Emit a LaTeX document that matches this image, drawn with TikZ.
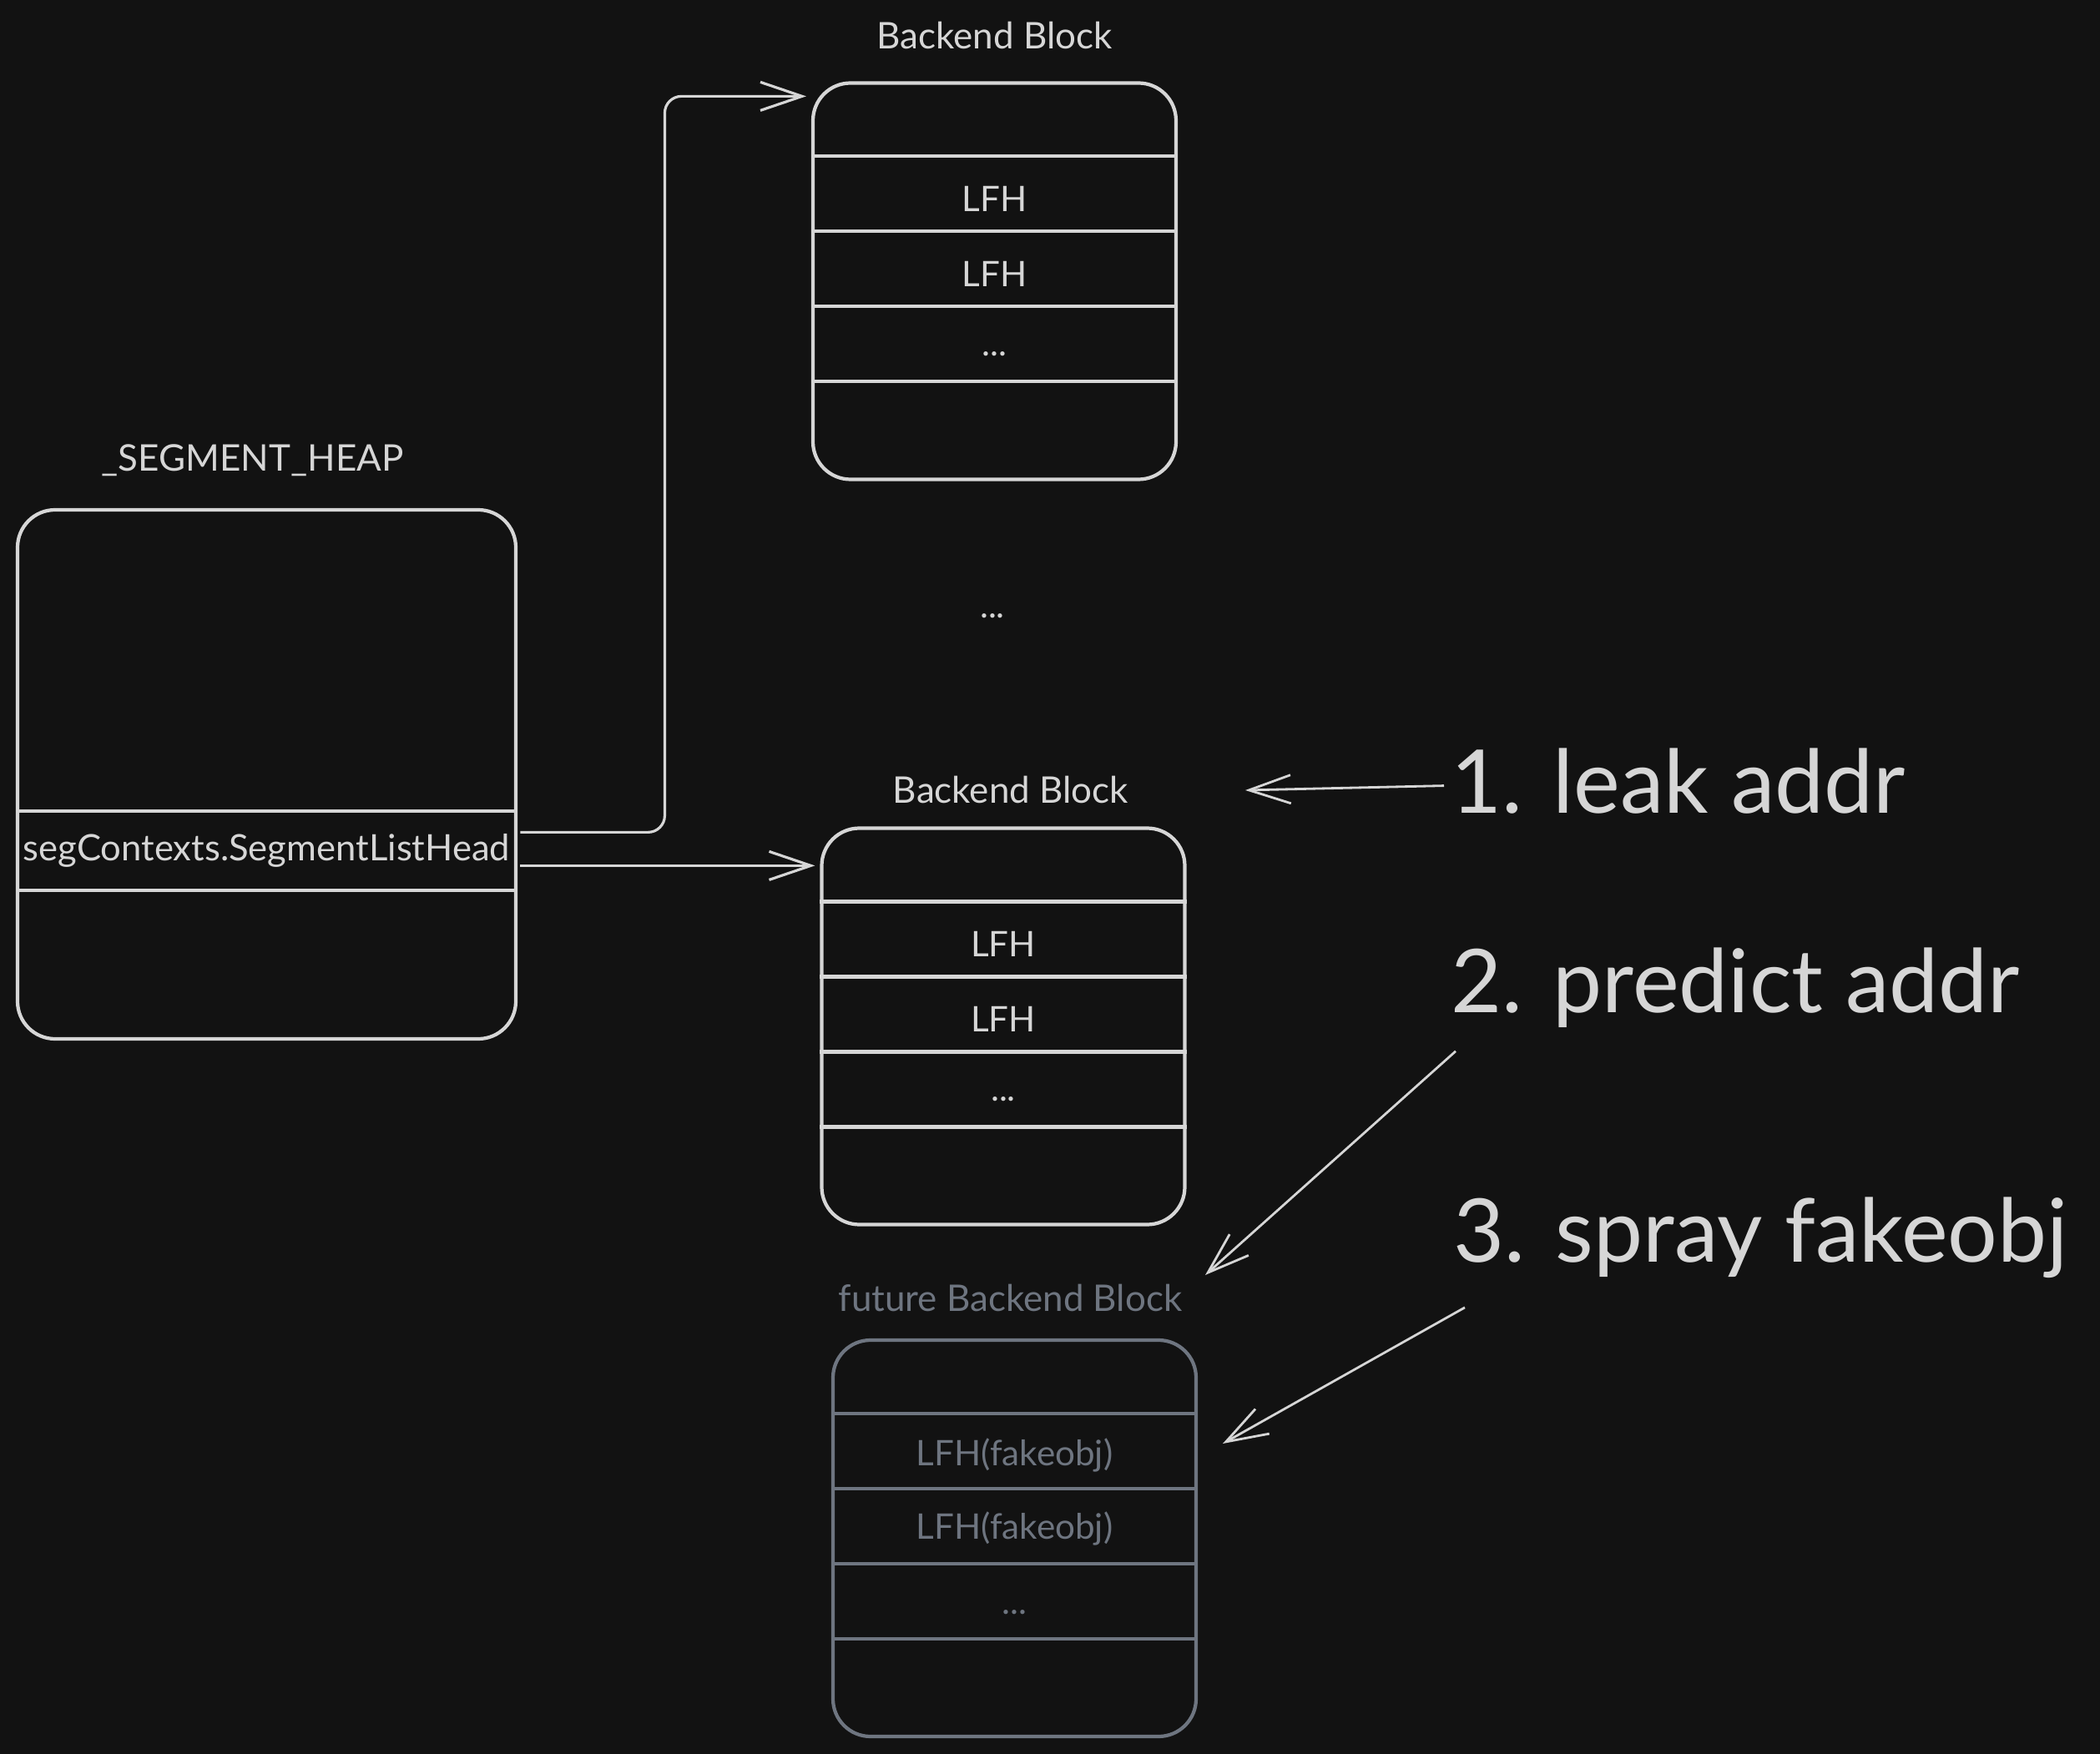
\documentclass[tikz,border=0pt]{standalone}
\usepackage{fontspec}
\setmainfont{Lato}
\usetikzlibrary{arrows.meta, positioning}
\definecolor{canvas}{HTML}{121212}
\definecolor{ink}{HTML}{D6D6D6}
\definecolor{ghost}{HTML}{6E7580}
\tikzset{
  block/.style={rectangle,draw=ink,line width=1.2pt,rounded corners=4.5mm,minimum width=4.35cm,minimum height=4.75cm,inner sep=0pt},
  cell/.style={text=ink,font=\fontsize{12}{14}\selectfont},
  caption/.style={text=ink,font=\fontsize{12.5}{15}\selectfont},
  steplabel/.style={text=ink,font=\fontsize{30}{36}\selectfont,anchor=base west,inner sep=0.8mm},
  link/.style={draw=ink,line width=0.9pt,-{Straight Barb[length=5mm,width=3.4mm]}}
}

\begin{document}
\begin{tikzpicture}
\fill[canvas] (0,0) rectangle (25.16,-21.02);
\useasboundingbox (0,0) rectangle (25.16,-21.02);

% heap
\node[block, minimum width=5.97cm, minimum height=6.34cm] (heap) at (3.195,-9.28) {};
\node[caption, above=2.6mm of heap, xshift=-1.7mm] (heapcap) {\_SEGMENT\_HEAP};
\node[cell, minimum width=5.97cm, minimum height=0.95cm, font=\fontsize{12.4}{14}\selectfont] (slh) at ([yshift=-4.105cm]heap.north) {segContexts.SegmentListHead};
\foreach \d in {3.63,4.58}
  \draw[ink, line width=1.2pt] ([yshift=-\d cm]heap.north west) -- ([yshift=-\d cm]heap.north east);

% backend blocks
\node[block] (bb1) at (11.915,-3.37) {};
\node[block] (bb2) at (12.02,-12.30) {};
\node[block, draw=ghost] (fb) at (12.155,-18.435) {};
\node[caption, above=2.6mm of bb1] (bb1cap) {Backend Block};
\node[caption, above=1.5mm of bb2, xshift=0.9mm] (bb2cap) {Backend Block};
\node[caption, above=2mm of fb, text=ghost, xshift=-0.5mm] (fbcap) {future Backend Block};
\node[cell] (gap) at (11.89,-7.38) {...};

\foreach \b/\c in {bb1/ink,bb2/ink,fb/ghost}
  \foreach \d in {0.9,1.8,2.7,3.6}
    \draw[\c, line width=1.2pt] ([yshift=-\d cm]\b.north west) -- ([yshift=-\d cm]\b.north east);

\foreach \b in {bb1,bb2} {
  \node[cell] at ([yshift=-1.41cm]\b.north) {LFH};
  \node[cell] at ([yshift=-2.31cm]\b.north) {LFH};
  \node[cell] at ([yshift=-3.27cm]\b.north) {...};
}
\node[cell, text=ghost] at ([yshift=-1.40cm]fb.north) {LFH(fakeobj)};
\node[cell, text=ghost] at ([yshift=-2.28cm]fb.north) {LFH(fakeobj)};
\node[cell, text=ghost] at ([yshift=-3.28cm]fb.north) {...};

% pointers
\draw[link, rounded corners=2mm] ([yshift=2.2mm]slh.east) -- ++(1.73,0) |- ([shift={(-0.6mm,-1.8mm)}]bb1.north west);
\draw[link] ([yshift=-1.8mm]slh.east) -- ([yshift=-1.8mm, xshift=-0.6mm]bb2.west |- slh.east);

% steps
\node[steplabel] (leak) at (17.30,-9.75) {1. leak addr};
\node[steplabel] (predict) at (17.30,-12.13) {2. predict addr};
\node[steplabel] (spray) at (17.33,-15.12) {3. spray fakeobj};
\coordinate (leaktip) at (14.92,-9.47);
\coordinate (predicttip) at (14.44,-15.28);
\coordinate (spraytip) at (14.65,-17.30);
\draw[link, line width=0.8pt] ([yshift=-0.5mm]leak.west) -- (leaktip);
\draw[link, line width=0.8pt] ([shift={(0.14,-0.2)}]predict.south west) -- (predicttip);
\draw[link, line width=0.8pt] ([shift={(0.22,-0.27)}]spray.south west) -- (spraytip);
\end{tikzpicture}
\end{document}
